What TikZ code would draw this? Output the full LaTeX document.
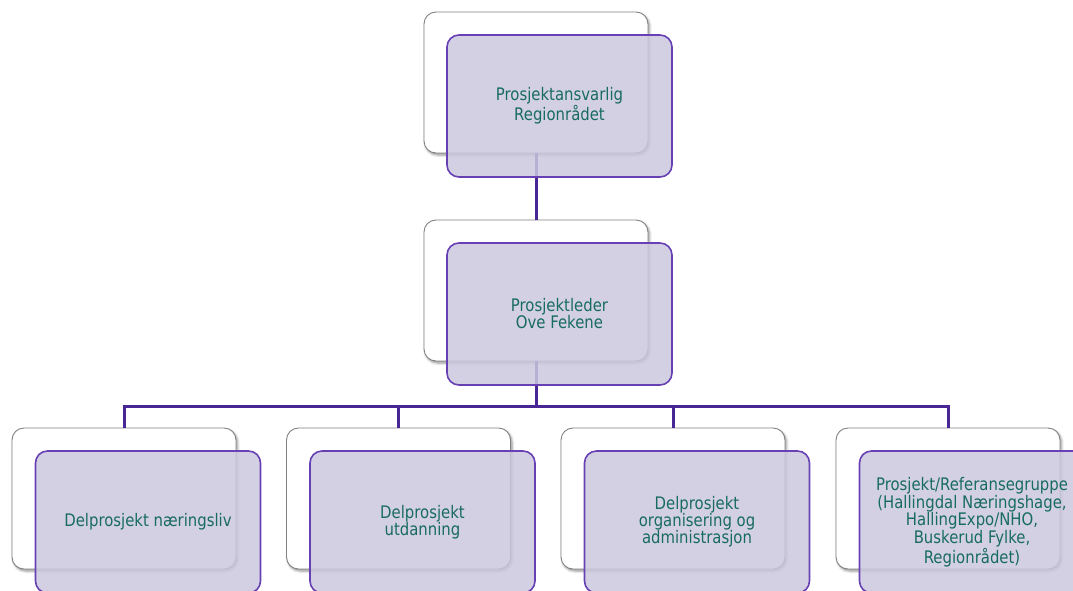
\documentclass[tikz,border=0pt]{standalone}
\usepackage{fontspec}
\setmainfont[FakeStretch=0.86]{DejaVu Sans}
\usetikzlibrary{shadows.blur}
\definecolor{txt}{RGB}{23,107,95}
\definecolor{frontfill}{RGB}{204,200,223}
\definecolor{frontline}{RGB}{103,64,180}
\definecolor{conn}{RGB}{72,38,150}
\definecolor{backline}{RGB}{128,128,128}
\tikzset{
  backbox/.style={draw=backline, line width=0.9pt, fill=white, rounded corners=12pt,
    minimum width=224pt, minimum height=141pt, inner sep=0pt,
    blur shadow={shadow xshift=1.5pt, shadow yshift=-2pt, shadow blur radius=2.5pt, shadow opacity=45}},
  frontbox/.style={draw=frontline, line width=1.6pt, fill=frontfill, fill opacity=0.85, text opacity=1,
    rounded corners=12pt, minimum width=225pt, minimum height=142pt, inner sep=2pt,
    text=txt, align=center, font=\fontsize{17.3}{17}\selectfont},
  connector/.style={draw=conn, line width=3pt}
}
\begin{document}
\begin{tikzpicture}[x=1pt,y=-1pt]
\useasboundingbox (0,0) rectangle (1073,590);
\clip (0,0) rectangle (1073,590);
% back boxes
\node[backbox] (b0) at (536,82.5) {};
\node[backbox] (b1) at (536,290.5) {};
\node[backbox] (c1) at (124,498.5) {};
\node[backbox] (c2) at (398.5,498.5) {};
\node[backbox] (c3) at (673,498.5) {};
\node[backbox] (c4) at (948,498.5) {};
% connectors
\coordinate (bus) at (536,406.5);
\draw[connector] (b0.south) -- (b1.north);
\draw[connector] (b1.south) -- (bus);
\draw[connector] (bus) -| (c1.north);
\draw[connector] (bus) -| (c2.north);
\draw[connector] (bus) -| (c3.north);
\draw[connector] (bus) -| (c4.north);
% front boxes
\node[frontbox] (f0) at (559.5,106) {Prosjektansvarlig\\Regionrådet};
\node[frontbox] (f1) at (559.5,314) {Prosjektleder\\Ove Fekene};
\node[frontbox] (g1) at (148,522) {Delprosjekt næringsliv};
\node[frontbox] (g2) at (422.5,522) {Delprosjekt\\utdanning};
\node[frontbox] (g3) at (697,522) {Delprosjekt\\organisering og\\administrasjon};
\node[frontbox, font=\fontsize{17.3}{15}\selectfont] (g4) at (972,522) {Prosjekt/Referansegruppe\\(Hallingdal Næringshage,\\HallingExpo/NHO,\\Buskerud Fylke,\\Regionrådet)};
\end{tikzpicture}
\end{document}
